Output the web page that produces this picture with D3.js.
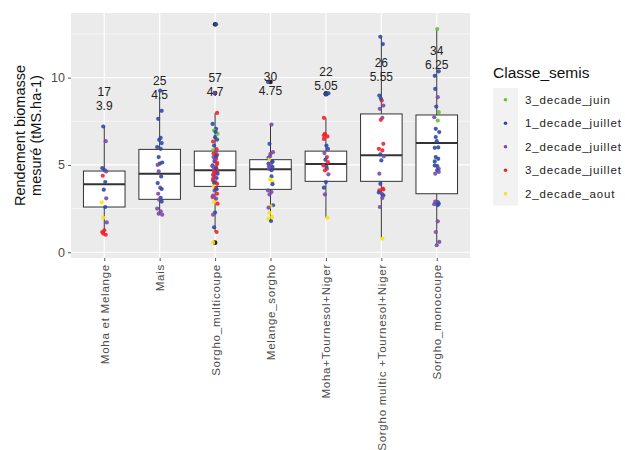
<!DOCTYPE html>
<html><head><meta charset="utf-8">
<script src="https://cdn.jsdelivr.net/npm/d3@7"></script>
<style>body{margin:0;background:#fff}svg{display:block;font-family:"Liberation Sans",Arial,sans-serif}</style>
</head><body><svg id="c" width="625" height="450"></svg>
<script>
const categories = ["Moha et Melange","Mais","Sorgho_multicoupe","Melange_sorgho","Moha+Tournesol+Niger","Sorgho multic +Tournesol+Niger","Sorgho_monocoupe"];
const classes = ["3_decade_juin","1_decade_juillet","2_decade_juillet","3_decade_juillet","2_decade_aout"];
const classKeys = ["g","b","p","r","y"];
const classColors = ["#66c23a","#2f4aa6","#7a4aa8","#f52128","#f5e80c"];
const yTicks = [0,5,10];
// box statistics
const q1 = [2.59,3.03,3.77,3.6,4.06,4.06,3.35];
const med = [3.9,4.5,4.7,4.75,5.05,5.55,6.25];
const medLabels = ["3.9","4.5","4.7","4.75","5.05","5.55","6.25"];
const q3 = [4.65,5.89,5.79,5.3,5.79,7.92,7.86];
const whiskLo = [1.0,2.15,1.16,1.79,1.98,0.78,0.4];
const whiskHi = [7.2,9.25,7.98,7.31,7.7,12.34,12.78];
// observations per category: [value, class]
const pts1 = [[7.2,"b"],[6.36,"p"],[4.82,"b"],[4.69,"b"],[4.63,"p"],[4.38,"r"],[4.02,"b"],[3.58,"b"],[3.09,"p"],[2.86,"y"],[2.59,"b"],[1.98,"y"],[1.71,"p"],[1.26,"r"],[1.16,"r"],[1.07,"r"],[1.0,"r"]];
const pts2 = [[9.25,"b"],[8.1,"b"],[7.64,"b"],[6.55,"b"],[6.44,"b"],[6.25,"b"],[6.02,"b"],[5.92,"b"],[5.45,"b"],[5.14,"b"],[5.07,"b"],[5.0,"p"],[4.63,"p"],[4.34,"b"],[3.96,"b"],[3.7,"p"],[3.62,"b"],[3.35,"p"],[3.12,"b"],[3.01,"p"],[2.9,"b"],[2.5,"p"],[2.34,"p"],[2.21,"p"],[2.15,"p"]];
const pts3 = [[13.05,"b"],[9.12,"p"],[7.98,"r"],[7.35,"b"],[7.07,"b"],[6.97,"g"],[6.78,"g"],[6.59,"b"],[6.34,"r"],[6.11,"b"],[5.9,"r"],[5.83,"g"],[5.73,"p"],[5.58,"r"],[5.45,"p"],[5.35,"r"],[5.2,"b"],[5.12,"r"],[4.97,"b"],[4.88,"r"],[4.74,"p"],[4.67,"r"],[4.55,"r"],[4.44,"p"],[4.36,"r"],[4.25,"b"],[4.11,"r"],[4.02,"p"],[3.92,"r"],[3.79,"y"],[3.67,"r"],[3.54,"p"],[3.35,"r"],[3.16,"r"],[3.07,"p"],[2.87,"y"],[2.78,"r"],[2.27,"b"],[2.15,"p"],[1.43,"b"],[1.16,"r"],[0.55,"y"],[6.9,"b"],[6.45,"b"],[5.65,"r"],[5.5,"b"],[5.28,"p"],[5.05,"r"],[4.92,"p"],[4.8,"b"],[4.6,"r"],[4.5,"b"],[4.3,"p"],[4.2,"r"],[3.98,"b"],[3.6,"b"],[3.25,"p"]];
const pts4 = [[9.75,"b"],[7.31,"p"],[6.21,"b"],[5.73,"p"],[5.64,"p"],[5.41,"b"],[5.35,"y"],[5.16,"p"],[5.07,"b"],[4.97,"p"],[4.88,"b"],[4.78,"p"],[4.34,"b"],[4.17,"y"],[4.02,"y"],[3.54,"p"],[3.45,"p"],[3.31,"p"],[2.69,"b"],[2.63,"y"],[2.55,"p"],[2.25,"y"],[2.02,"y"],[1.92,"y"],[1.79,"b"],[5.2,"b"],[4.92,"p"],[4.7,"b"],[5.5,"p"],[3.9,"b"]];
const pts5 = [[9.1,"b"],[9.05,"b"],[7.7,"r"],[6.78,"r"],[6.63,"r"],[6.49,"r"],[6.11,"b"],[5.92,"b"],[5.68,"p"],[5.45,"r"],[5.3,"b"],[5.16,"r"],[4.97,"r"],[4.78,"r"],[4.69,"r"],[4.46,"p"],[4.02,"b"],[3.7,"b"],[3.31,"p"],[1.98,"y"],[6.7,"r"],[4.9,"b"]];
const pts6 = [[12.34,"b"],[11.92,"b"],[8.97,"b"],[8.69,"r"],[8.4,"p"],[8.21,"p"],[7.7,"p"],[7.58,"r"],[6.21,"r"],[5.92,"r"],[5.83,"r"],[5.6,"b"],[5.49,"p"],[5.26,"b"],[4.5,"p"],[3.92,"b"],[3.64,"r"],[3.54,"r"],[3.35,"p"],[3.26,"b"],[2.59,"p"],[0.78,"y"],[8.8,"b"],[3.6,"r"],[3.42,"b"],[3.1,"p"]];
const pts7 = [[12.78,"g"],[10.36,"b"],[9.35,"b"],[8.88,"p"],[8.34,"b"],[8.02,"g"],[7.73,"p"],[7.54,"g"],[7.07,"b"],[6.88,"b"],[6.36,"b"],[5.98,"b"],[5.45,"b"],[5.35,"b"],[4.97,"b"],[4.93,"b"],[4.78,"p"],[4.5,"p"],[2.87,"b"],[2.82,"p"],[2.78,"b"],[2.75,"p"],[1.77,"p"],[1.16,"p"],[0.59,"p"],[0.4,"p"],[10.1,"b"],[6.6,"b"],[6.0,"b"],[5.2,"b"],[4.7,"b"],[4.6,"p"],[2.9,"p"],[2.7,"b"]];
const allPts = [pts1,pts2,pts3,pts4,pts5,pts6,pts7];
const jitterPx = [-1,1.5,-2,0.5,2,-1.5,1,-0.5,2,-2.5,1,-1,2.5,0,-2];

const svg = d3.select("#c");
const P = {l:71, r:470, t:13, b:258};
const x = d3.scalePoint().domain(categories).range([P.l,P.r]).padding(0.6);
const y = d3.scaleLinear().domain([-0.33,13.7]).range([P.b,P.t]);
const color = d3.scaleOrdinal().domain(classKeys).range(classColors);
const bw = x.step()*0.75;

svg.append("rect").attr("x",P.l).attr("y",P.t).attr("width",P.r-P.l).attr("height",P.b-P.t).attr("fill","#ebebeb");
const minor = [2.5,7.5,12.5];
svg.selectAll(".mn").data(minor).join("line").attr("x1",P.l).attr("x2",P.r).attr("y1",d=>y(d)).attr("y2",d=>y(d)).attr("stroke","#fff").attr("stroke-width",0.6);
svg.selectAll(".mj").data(yTicks).join("line").attr("x1",P.l).attr("x2",P.r).attr("y1",d=>y(d)).attr("y2",d=>y(d)).attr("stroke","#fff").attr("stroke-width",1.2);
svg.selectAll(".vj").data(categories).join("line").attr("x1",d=>x(d)).attr("x2",d=>x(d)).attr("y1",P.t).attr("y2",P.b).attr("stroke","#fff").attr("stroke-width",1.2);

// axes
const ya = d3.axisLeft(y).tickValues(yTicks).tickSize(3).tickPadding(3);
const gy = svg.append("g").attr("transform",`translate(${P.l},0)`).call(ya);
gy.select(".domain").remove();
gy.selectAll("line").attr("stroke","#555");
gy.selectAll("text").attr("fill","#4d4d4d").style("font-size","12.5px");
const xa = d3.axisBottom(x).tickSize(3).tickPadding(3);
const gx = svg.append("g").attr("transform",`translate(0,${P.b})`).call(xa);
gx.select(".domain").remove();
gx.selectAll("line").attr("stroke","#555");
gx.selectAll("text").attr("fill","#4d4d4d").style("font-size","11.5px").style("letter-spacing","0.75px")
  .attr("text-anchor","end").attr("dy","0.35em").attr("transform","translate(0,6) rotate(-90)").attr("x",0).attr("y",0);

// boxes
categories.forEach((c,i)=>{
  const g = svg.append("g");
  const cx = x(c);
  g.append("line").attr("x1",cx).attr("x2",cx).attr("y1",y(whiskHi[i])).attr("y2",y(q3[i])).attr("stroke","#333").attr("stroke-width",1);
  g.append("line").attr("x1",cx).attr("x2",cx).attr("y1",y(q1[i])).attr("y2",y(whiskLo[i])).attr("stroke","#333").attr("stroke-width",1);
  g.append("rect").attr("x",cx-bw/2).attr("y",y(q3[i])).attr("width",bw).attr("height",y(q1[i])-y(q3[i])).attr("fill","#fff").attr("stroke","#333").attr("stroke-width",1);
  g.append("line").attr("x1",cx-bw/2).attr("x2",cx+bw/2).attr("y1",y(med[i])).attr("y2",y(med[i])).attr("stroke","#333").attr("stroke-width",2);
  const outl = allPts[i].filter(p=>p[0]>whiskHi[i]||p[0]<whiskLo[i]);
  g.selectAll("circle").data(outl).join("circle").attr("cx",cx).attr("cy",d=>y(d[0])).attr("r",2.3).attr("fill","#222");
});
// jittered points
categories.forEach((c,i)=>{
  svg.append("g").selectAll("circle").data(allPts[i]).join("circle")
    .attr("cx",(d,j)=>x(c)+jitterPx[(j+i*3)%jitterPx.length])
    .attr("cy",d=>y(d[0])).attr("r",2.1).attr("fill",d=>color(d[1])).attr("opacity",0.9);
});
// labels n and median
categories.forEach((c,i)=>{
  svg.append("text").attr("x",x(c)).attr("y",y(med[i]+5.3)).attr("dy","0.35em").attr("text-anchor","middle").style("font-size","12px").attr("fill","#222").text(allPts[i].length);
  svg.append("text").attr("x",x(c)).attr("y",y(med[i]+4.5)).attr("dy","0.35em").attr("text-anchor","middle").style("font-size","12px").attr("fill","#222").text(medLabels[i]);
});
// y title
const yt = svg.append("text").attr("transform",`translate(25,${(P.t+P.b)/2}) rotate(-90)`).attr("text-anchor","middle").style("font-size","14.5px").attr("fill","#111");
yt.append("tspan").attr("x",0).attr("dy","0em").text("Rendement biomasse");
yt.append("tspan").attr("x",0).attr("dy","1.1em").text("mesuré (tMS.ha-1)");

// legend
const L = {x:493, y:88, key:23.5};
svg.append("text").attr("x",L.x).attr("y",78).style("font-size","15.5px").attr("fill","#111").text("Classe_semis");
svg.append("rect").attr("x",L.x).attr("y",L.y).attr("width",25).attr("height",L.key*classes.length).attr("fill","#f2f2f2");
const lg = svg.selectAll(".lg").data(classes).join("g").attr("transform",(d,i)=>`translate(${L.x},${L.y+L.key*i+L.key/2})`);
lg.append("circle").attr("cx",12.5).attr("cy",0).attr("r",1.8).attr("fill",(d,i)=>classColors[i]);
lg.append("text").attr("x",32).attr("dy","0.35em").style("font-size","11.5px").style("letter-spacing","0.85px").attr("fill","#222").text(d=>d);
</script></body></html>
